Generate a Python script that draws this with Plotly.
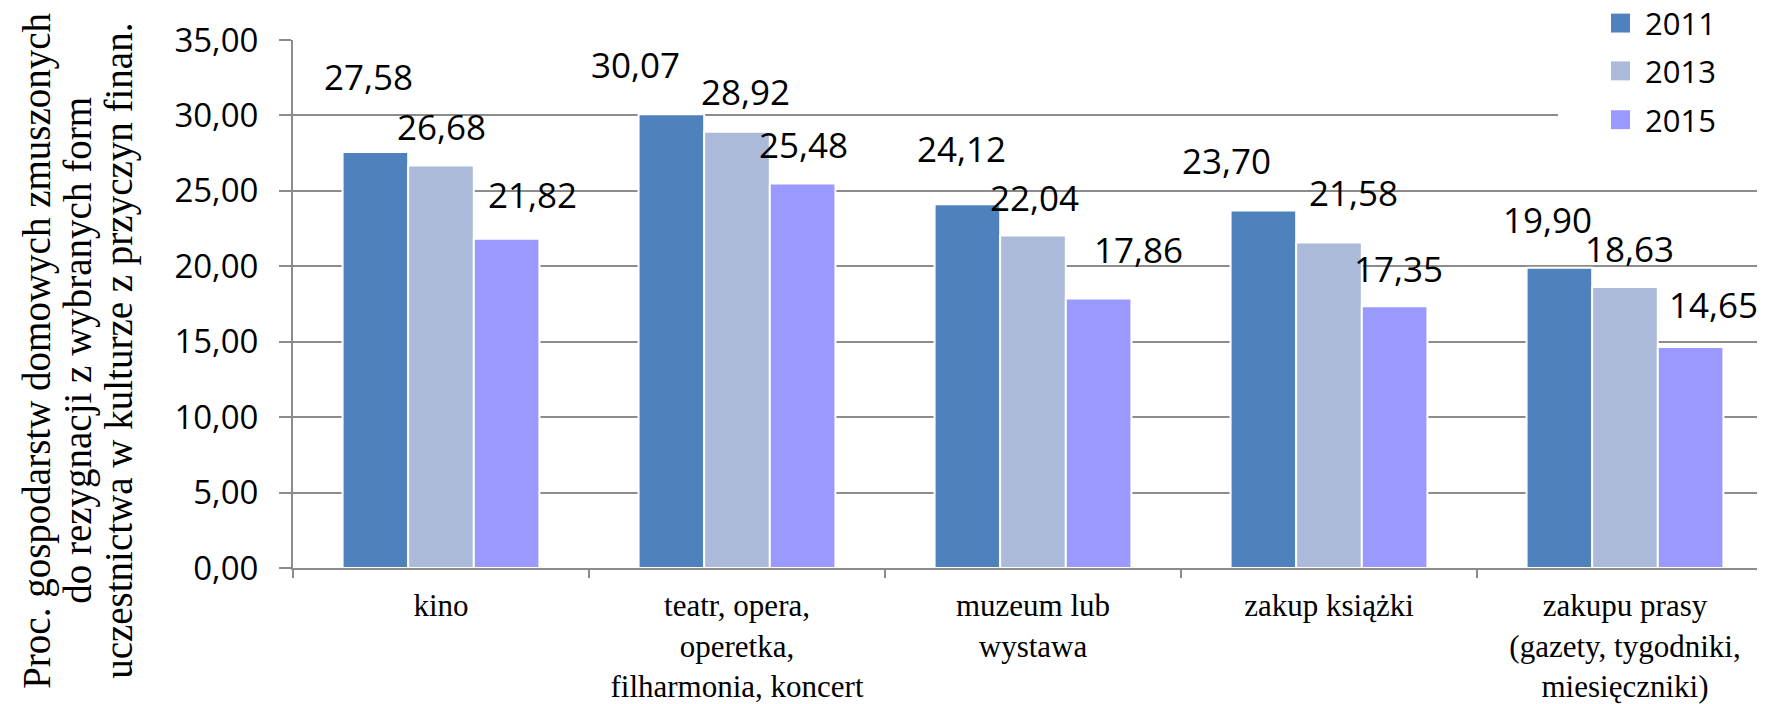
import plotly.graph_objects as go

# ---- data ----
categories = ["kino", "teatr", "muzeum", "ksiazki", "prasa"]
category_labels = [
    "kino",
    "teatr, opera,<br>operetka,<br>filharmonia, koncert",
    "muzeum lub<br>wystawa",
    "zakup książki",
    "zakupu prasy<br>(gazety, tygodniki,<br>miesięczniki)",
]
years = ["2011", "2013", "2015"]
v2011 = [27.58, 30.07, 24.12, 23.70, 19.90]
v2013 = [26.68, 28.92, 22.04, 21.58, 18.63]
v2015 = [21.82, 25.48, 17.86, 17.35, 14.65]
y_ticks = [0, 5, 10, 15, 20, 25, 30, 35]
y_title_lines = [
    "Proc. gospodarstw domowych zmuszonych",
    "do rezygnacji z wybranych form",
    "uczestnictwa w kulturze z przyczyn finan.",
]

# ---- style / layout ----
colors = ["#4F81BD", "#AABAD8", "#9999FF"]
grid = "#8C8C8C"
PAGE_OFF = 8                      # default body margin of the html page
W, H = 1765 - PAGE_OFF, 704 - PAGE_OFF
ML, MR, MT, MB = 293 - PAGE_OFF, 0, 40 - PAGE_OFF, 134
BARGAP = 0.335
CAT_PX = 296.0
YMAX = 35
plot_w = W - ML - MR
plot_h = H - MT - MB
X0_PAGE = ML + PAGE_OFF           # page x of plot left edge
Y0_PAGE = H - MB + PAGE_OFF       # page y of plot bottom edge
xmax = -0.5 + plot_w / CAT_PX


def px_to_paper_x(xp):
    return (xp - X0_PAGE) / plot_w


def px_to_paper_y(yp):
    return (Y0_PAGE - yp) / plot_h


# manual label nudges (px) relative to top-centre of each bar, per series
label_dx = [[-6.5, -35.5, -5.5, -36.5, -11.5],
            [0, 8, 1.6, 24.6, 4],
            [25.5, 1, 39.5, 3.5, 22.5]]
label_dy = [[75, 50, 55.5, 50, 48],
            [39, 40, 38.5, 50, 38],
            [44, 39, 49, 38, 42.5]]

series = [v2011, v2013, v2015]
bar_px = CAT_PX * (1 - BARGAP) / 3

fig = go.Figure()
for k, (yr, vals) in enumerate(zip(years, series)):
    fig.add_trace(go.Bar(
        x=categories, y=vals, name=yr, showlegend=False,
        marker=dict(color=colors[k], line=dict(color="white", width=2)),
        hoverinfo="skip",
    ))

annotations = []
for k, vals in enumerate(series):
    for i, v in enumerate(vals):
        annotations.append(dict(
            x=categories[i], y=v, xref="x", yref="y",
            text=f"{v:.2f}".replace(".", ","), showarrow=False,
            xanchor="center", yanchor="middle",
            xshift=(k - 1) * bar_px + label_dx[k][i],
            yshift=label_dy[k][i],
            font=dict(family="Open Sans", size=35, color="black"),
        ))

# y-axis title: three centred lines
title_x_px = [37, 78, 119]
title_y_px = 352
for line, xp in zip(y_title_lines, title_x_px):
    annotations.append(dict(
        x=px_to_paper_x(xp), y=px_to_paper_y(title_y_px),
        xref="paper", yref="paper", text=line, showarrow=False,
        textangle=-90, xanchor="center", yanchor="middle",
        font=dict(family="Liberation Serif", size=39, color="black"),
    ))

# white panel behind the legend that hides the gridlines there
panel_x0 = -0.5 + (1558 - X0_PAGE) / CAT_PX
panel_y0 = (Y0_PAGE - 165) / plot_h * YMAX
shapes = [dict(
    type="rect", xref="x", yref="y", layer="between",
    x0=panel_x0, x1=xmax, y0=panel_y0, y1=YMAX * 1.01,
    fillcolor="white", line=dict(width=0),
)]

# legend: coloured squares + year labels
legend_rows_px = [23, 71, 120]
SQ = 19
for k, yr in enumerate(years):
    yc = legend_rows_px[k]
    shapes.append(dict(
        type="rect", xref="paper", yref="paper", layer="above",
        x0=px_to_paper_x(1611), x1=px_to_paper_x(1611 + SQ),
        y0=px_to_paper_y(yc + SQ / 2), y1=px_to_paper_y(yc - SQ / 2),
        fillcolor=colors[k], line=dict(width=0),
    ))
    annotations.append(dict(
        x=px_to_paper_x(1643), y=px_to_paper_y(yc),
        xref="paper", yref="paper", text=yr, showarrow=False,
        xanchor="left", yanchor="middle",
        font=dict(family="Open Sans", size=31, color="black"),
    ))

fig.update_layout(
    width=W, height=H, autosize=False,
    margin=dict(l=ML, r=MR, t=MT, b=MB, pad=0),
    paper_bgcolor="white", plot_bgcolor="white",
    barmode="group", bargap=BARGAP, bargroupgap=0,
    separators=", ",
    annotations=annotations,
    shapes=shapes,
    showlegend=False,
)

fig.update_xaxes(
    type="category", range=[-0.5, xmax],
    tickmode="array", tickvals=categories, ticktext=category_labels,
    tickson="boundaries", ticks="outside", ticklen=8, tickwidth=2, tickcolor=grid,
    showline=True, linecolor=grid, linewidth=2, showgrid=False,
    tickfont=dict(family="Liberation Serif", size=31, color="black"),
    ticklabelstandoff=9,
)
fig.update_yaxes(
    range=[0, YMAX], tickmode="array", tickvals=y_ticks, tickformat=".2f",
    showgrid=True, gridcolor=grid, gridwidth=2,
    showline=True, linecolor=grid, linewidth=2, zeroline=False,
    ticks="outside", ticklen=12, tickwidth=2, tickcolor=grid,
    tickfont=dict(family="Open Sans", size=33, color="black"),
    ticklabelstandoff=14,
)

fig.write_html("out.html")
